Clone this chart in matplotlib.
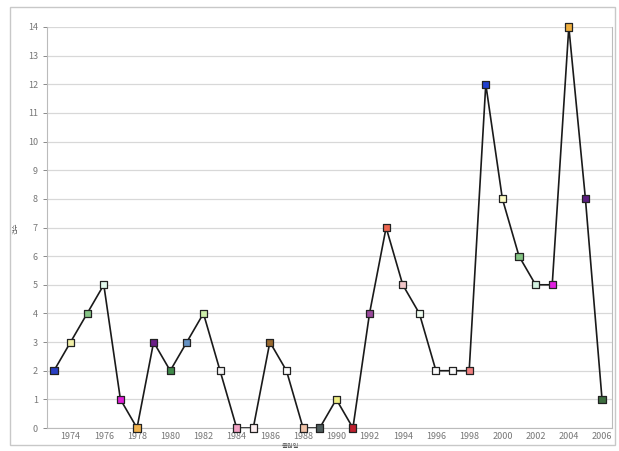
import matplotlib
matplotlib.use("Agg")
import matplotlib.pyplot as plt
from matplotlib.patches import Rectangle

plt.rcParams['font.family'] = ['Noto Sans CJK KR', 'DejaVu Sans']

years = list(range(1973, 2007))
counts = [2, 3, 4, 5, 1, 0, 3, 2, 3, 4, 2, 0, 0, 3, 2, 0, 0, 1, 0, 4,
          7, 5, 4, 2, 2, 2, 12, 8, 6, 5, 5, 14, 8, 1]
marker_colors = ['#2a3fc4', '#f2f0a8', '#86c486', '#e4fbef', '#e020d8', '#f0b24e',
                 '#6a1f86', '#3f8a4a', '#6592c4', '#cdeeaa', '#f2f2f2', '#f2a2c4',
                 '#fff0f2', '#9a6a30', '#fafafa', '#f2c4aa', '#4e5c5c', '#f0ee84',
                 '#c0202e', '#9a4a9c', '#ee6650', '#f2c6c8', '#effdf0', '#fafafa',
                 '#fafafa', '#f08080', '#2040d0', '#fcfcc4', '#84c484', '#d4f2e2',
                 '#e020e0', '#f0b040', '#5c1e80', '#3e6e40']
xticks = list(range(1974, 2007, 2))
yticks = list(range(0, 15))
xlabel = '출원일'
ylabel = '건수'

fig = plt.figure(figsize=(6.19, 4.51), dpi=100)
fig.patches.append(Rectangle((10/619, 6/451), 605/619, 438/451, transform=fig.transFigure,
                             fill=False, edgecolor='#c8c8c8', linewidth=1.0))
ax = fig.add_axes([47/619, 1 - 428/451, (612 - 47)/619, (428 - 27)/451])

ax.plot(years, counts, color='#1a1a1a', linewidth=1.2, zorder=2)
ax.scatter(years, counts, marker='s', s=26, c=marker_colors, edgecolors='#222222',
           linewidths=0.9, zorder=3, clip_on=False)

ax.set_xlim(1972.58, 2006.6)
ax.set_ylim(0, 14)
ax.set_xticks(xticks)
ax.set_yticks(yticks)
ax.tick_params(axis='both', labelsize=6.5, colors='#777777', length=3, width=0.6)
ax.tick_params(axis='x', length=0, pad=3)
ax.grid(axis='y', color='#d8d8d8', linewidth=0.9)
ax.set_axisbelow(True)
for side in ['left', 'bottom', 'right']:
    ax.spines[side].set_color('#bbbbbb')
    ax.spines[side].set_linewidth(0.8)
ax.spines['top'].set_visible(False)

fig.text(290/619, 1 - 446/451, xlabel, fontsize=4.5, color='#555555', ha='center', va='center')
fig.text(16/619, 1 - 228/451, ylabel, fontsize=4.5, color='#555555', ha='center', va='center',
         rotation=90)

fig.savefig('out.png', dpi=100)
